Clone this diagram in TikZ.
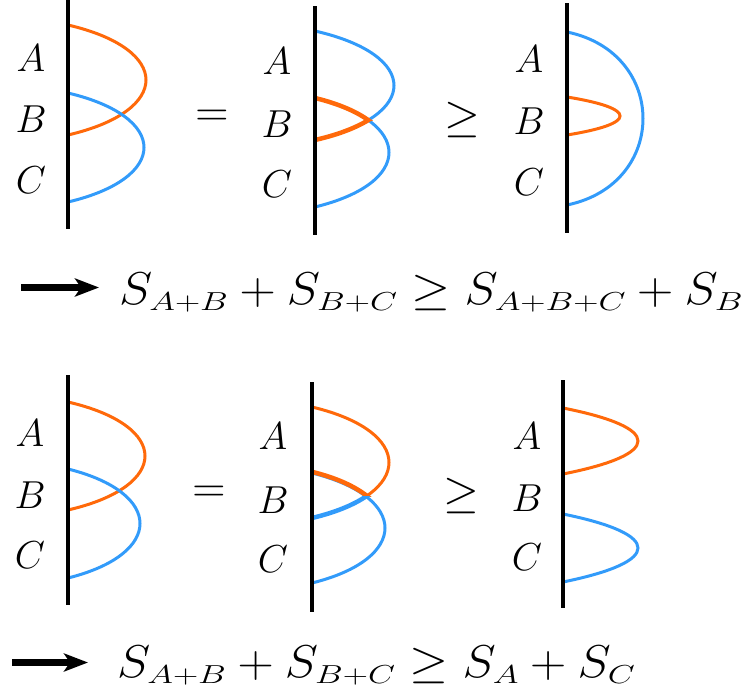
\RequirePackage{fix-cm}
\documentclass[tikz,border=0pt]{standalone}
\usepackage{graphicx}
\usetikzlibrary{arrows.meta,intersections}
\DeclareMathSizes{46}{46}{26}{20}
\DeclareMathSizes{39}{39}{27}{20}
\definecolor{myorange}{RGB}{255,105,10}
\definecolor{myblue}{RGB}{50,155,250}
\newcommand\bumppath[5]{(#1,#2) .. controls ({#1+4*#4/3},{#2+#5*(#3-#2)}) and ({#1+4*#4/3},{#3-#5*(#3-#2)}) .. (#1,#3)}
\newcommand\subx[1]{_{\scalebox{1.23}[1]{$\scriptstyle #1$}}}
\tikzset{
  wall/.style={line width=4pt, black},
  orng/.style={myorange, line width=3pt},
  blu/.style={myblue, line width=3pt},
  orngthick/.style={myorange, line width=4.5pt},
  bluthick/.style={myblue, line width=4.5pt},
  lbl/.style={font=\fontsize{39}{44}\selectfont, inner sep=0pt, anchor=base},
  rel/.style={font=\fontsize{46}{50}\selectfont, inner sep=0pt, anchor=base},
  eqn/.style={font=\fontsize{46}{50}\selectfont, inner sep=0pt, anchor=base west},
  bigarrow/.style={line width=7pt, -{Stealth[length=24pt,width=18pt,inset=6pt]}},
}
\begin{document}
\begin{tikzpicture}[x=1pt,y=-1pt]
\useasboundingbox (0,0) rectangle (748,696);

% ---------- top row, panel 1 ----------
\draw[orng] \bumppath{68}{25}{135}{78}{0.22};
\draw[blu] \bumppath{68}{93}{202}{76}{0.22};
\draw[wall] (68,0) -- (68,229);
\node[lbl] (t1a) at (31,71.3) {$A$};
\node[lbl] (t1b) at (31,132.8) {$B$};
\node[lbl] (t1c) at (31,193.8) {$C$};

\node[rel] (teq) at (212,126.5) {$=$};

% ---------- top row, panel 2 ----------
\path[name path=tA] \bumppath{315}{31}{140}{79}{0.22};
\path[name path=tB] \bumppath{315}{98}{207}{74}{0.22};
\path[name intersections={of=tA and tB, by={X1}}];
\begin{scope}
  \clip (X1) ++(-150,0) rectangle ++(300,-200);
  \draw[blu] \bumppath{315}{31}{140}{79}{0.22};
  \draw[orngthick] \bumppath{315}{98}{207}{74}{0.22};
\end{scope}
\begin{scope}
  \clip (X1) ++(-150,0) rectangle ++(300,200);
  \draw[blu] \bumppath{315}{98}{207}{74}{0.22};
  \draw[orngthick] \bumppath{315}{31}{140}{79}{0.22};
\end{scope}
\draw[wall] (315,6) -- (315,235);
\node[lbl] (t2a) at (277,74.3) {$A$};
\node[lbl] (t2b) at (277,137.3) {$B$};
\node[lbl] (t2c) at (277,197.3) {$C$};

\node[rel] (tge) at (462,131.5) {$\geq$};

% ---------- top row, panel 3 ----------
\draw[blu] \bumppath{567}{32}{205}{76}{0.12};
\draw[orng] \bumppath{567}{97}{135}{53}{0.3};
\draw[wall] (567,3) -- (567,233);
\node[lbl] (t3a) at (529,72.3) {$A$};
\node[lbl] (t3b) at (529,134.3) {$B$};
\node[lbl] (t3c) at (529,195.3) {$C$};

% ---------- top implication ----------
\coordinate (a1s) at (21,287.5);
\coordinate (a1e) at (99,287.5);
\draw[bigarrow] (a1s) -- (a1e);
\node[eqn] (eq1) at (119,304) {\scalebox{1.092}[1]{$S\subx{A+B}+S\subx{B+C}\geq S\subx{A+B+C}+S\subx{B}$}};

% ---------- bottom row, panel 1 ----------
\draw[orng] \bumppath{68}{402}{510}{77}{0.22};
\draw[blu] \bumppath{68}{469}{578}{72}{0.22};
\draw[wall] (68,375) -- (68,605);
\node[lbl] (b1a) at (30,446.3) {$A$};
\node[lbl] (b1b) at (30,508) {$B$};
\node[lbl] (b1c) at (30,568.8) {$C$};

\node[rel] (beq) at (209,502.5) {$=$};

% ---------- bottom row, panel 2 ----------
\path[name path=bA] \bumppath{312}{407}{518}{77}{0.22};
\path[name path=bB] \bumppath{312}{473}{583}{73}{0.22};
\path[name intersections={of=bA and bB, by={X2}}];
\begin{scope}
  \clip (X2) ++(-150,0) rectangle ++(300,-200);
  \draw[orng] \bumppath{312}{407}{518}{77}{0.22};
  \draw[blu] \bumppath{312}{473}{583}{73}{0.22};
  \draw[orngthick, yshift=1.2pt] \bumppath{312}{473}{583}{73}{0.22};
\end{scope}
\begin{scope}
  \clip (X2) ++(-150,0) rectangle ++(300,200);
  \draw[blu] \bumppath{312}{473}{583}{73}{0.22};
  \draw[bluthick] \bumppath{312}{407}{518}{77}{0.22};
\end{scope}
\draw[wall] (312,382) -- (312,612);
\node[lbl] (b2a) at (273,449.3) {$A$};
\node[lbl] (b2b) at (273,513.8) {$B$};
\node[lbl] (b2c) at (273,572.3) {$C$};

\node[rel] (bge) at (461,507.5) {$\geq$};

% ---------- bottom row, panel 3 ----------
\draw[orng] \bumppath{563}{408}{474}{75}{0.3};
\draw[blu] \bumppath{563}{514}{582}{75}{0.3};
\draw[wall] (563,380) -- (563,608);
\node[lbl] (b3a) at (527,449.3) {$A$};
\node[lbl] (b3b) at (527,511.8) {$B$};
\node[lbl] (b3c) at (527,570.3) {$C$};

% ---------- bottom implication ----------
\coordinate (a2s) at (12,662.5);
\coordinate (a2e) at (88,662.5);
\draw[bigarrow] (a2s) -- (a2e);
\node[eqn] (eq2) at (117,677) {\scalebox{1.092}[1]{$S\subx{A+B}+S\subx{B+C}\geq S\subx{A}+S\subx{C}$}};
\end{tikzpicture}
\end{document}
